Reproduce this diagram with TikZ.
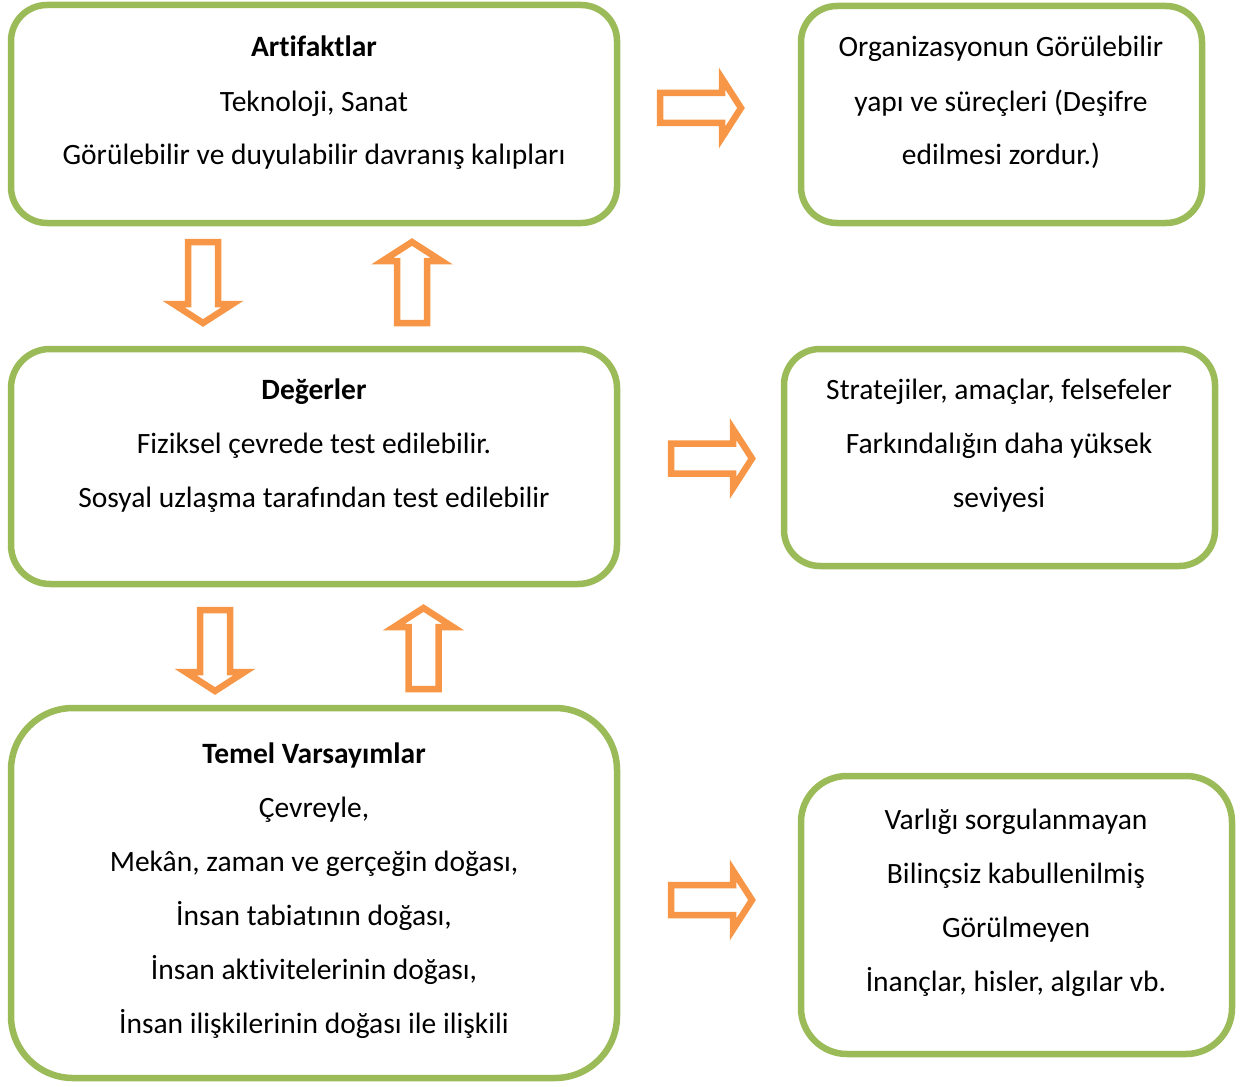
\documentclass[tikz,border=0pt]{standalone}
\usepackage{fontspec}
\setmainfont{Carlito}[Ligatures=NoCommon]
\usepackage{tikz}
\usetikzlibrary{positioning}
\usepackage{xcolor}
\definecolor{boxgreen}{HTML}{9BBB59}
\definecolor{arroworange}{HTML}{F79646}

\tikzset{
	box/.style={draw=boxgreen, line width=6.5pt, rectangle, inner sep=0pt, outer sep=0pt},
	txt/.style={align=center, anchor=base, inner sep=0pt, font=\fontsize{29.5}{54}\selectfont},
	arrowline/.style={draw=arroworange, line width=6.5pt, line join=miter},
	blockarrow/.pic={\draw[arrowline] (0,15)--(62,15)--(62,29.5)--(81,0)--(62,-29.5)--(62,-15)--(0,-15)--cycle;}
}

\begin{document}
\begin{tikzpicture}[x=1pt, y=-1pt]
	\useasboundingbox (0,0) rectangle (1257,1086);
	% left column
	\node[box, minimum width=606, minimum height=218, rounded corners=36] (art) at (314,114) {};
	\node[box, minimum width=606, minimum height=235, rounded corners=39] (deg) at (314,466.5) {};
	\node[box, minimum width=606, minimum height=370, rounded corners=62] (tem) at (314,893) {};
	\node[txt] (artT) at (314,165) {\textbf{Artifaktlar}\\Teknoloji, Sanat\\Görülebilir ve duyulabilir davranış kalıpları};
	\node[txt] (degT) at (314,507) {\textbf{Değerler}\\Fiziksel çevrede test edilebilir.\\Sosyal uzlaşma tarafından test edilebilir};
	\node[txt] (temT) at (314,1033) {\textbf{Temel Varsayımlar}\\Çevreyle,\\Mekân, zaman ve gerçeğin doğası,\\İnsan tabiatının doğası,\\İnsan aktivitelerinin doğası,\\İnsan ilişkilerinin doğası ile ilişkili};
	% right column
	\node[box, minimum width=401, minimum height=217, rounded corners=36] (artR) at (1001.5,114.5) {};
	\node[box, minimum width=431, minimum height=217, rounded corners=36] (degR) at (999.5,457.5) {};
	\node[box, minimum width=431, minimum height=278, rounded corners=46] (temR) at (1016.5,915) {};
	\node[txt] (artRT) at (1001,165) {Organizasyonun Görülebilir\\yapı ve süreçleri (Deşifre\\edilmesi zordur.)};
	\node[txt] (degRT) at (999,507) {Stratejiler, amaçlar, felsefeler\\Farkındalığın daha yüksek\\seviyesi};
	\node[txt] (temRT) at (1016,991) {Varlığı sorgulanmayan\\Bilinçsiz kabullenilmiş\\Görülmeyen\\İnançlar, hisler, algılar vb.};
	% block arrows
	\pic (arrArt) at (660,108) {blockarrow};
	\pic (arrDeg) at (671,458.5) {blockarrow};
	\pic (arrTem) at (671,900) {blockarrow};
	\pic[rotate=-90] (downA) at (203,242) {blockarrow};
	\pic[rotate=90] (upA) at (412,323) {blockarrow};
	\pic[rotate=-90] (downB) at (215,610) {blockarrow};
	\pic[rotate=90] (upB) at (423.5,689) {blockarrow};
\end{tikzpicture}
\end{document}
